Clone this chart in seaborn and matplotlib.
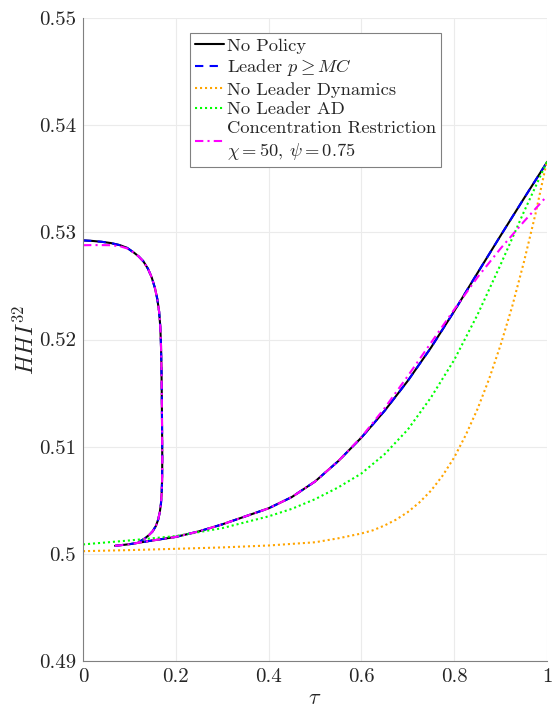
import numpy as np
import pandas as pd
import matplotlib
matplotlib.use("Agg")
import matplotlib.pyplot as plt
import seaborn as sns

# ---------------- data ----------------
# No Policy (black) -- upper branch with fold, then lower branch
np_tau_up = [0.0, 0.02, 0.04, 0.06, 0.08, 0.095, 0.11, 0.12, 0.13, 0.14, 0.148, 0.155,
             0.16, 0.164, 0.1665, 0.168, 0.169, 0.1697, 0.1703, 0.1708, 0.1705, 0.1695,
             0.168, 0.1655, 0.162, 0.157, 0.15, 0.142, 0.132, 0.12]
np_hhi_up = [0.52925, 0.5292, 0.52912, 0.529, 0.5288, 0.52855, 0.5281, 0.52775, 0.5273,
             0.5266, 0.5258, 0.5248, 0.5238, 0.5226, 0.5212, 0.5195, 0.5175, 0.515,
             0.512, 0.509, 0.507, 0.5057, 0.5047, 0.5039, 0.5032, 0.5026, 0.5021,
             0.50175, 0.5014, 0.5011]
np_tau_lo = [0.069, 0.1, 0.15, 0.2, 0.25, 0.3, 0.35, 0.4, 0.45, 0.5, 0.55, 0.6, 0.65,
             0.7, 0.75, 0.8, 0.85, 0.9, 0.95, 1.0]
np_hhi_lo = [0.50075, 0.5009, 0.50125, 0.50158, 0.5021, 0.50275, 0.5035, 0.50425, 0.5053,
             0.50675, 0.50865, 0.51085, 0.51335, 0.51615, 0.51925, 0.52265, 0.5262,
             0.5297, 0.53315, 0.53655]

# Leader p >= MC (blue dashed) -- coincides with No Policy
ld_tau_up = np_tau_up
ld_hhi_up = np_hhi_up
ld_tau_lo = np_tau_lo
ld_hhi_lo = np_hhi_lo

# No Leader Dynamics (orange dotted)
nd_tau = [0.0, 0.1, 0.2, 0.3, 0.4, 0.5, 0.55, 0.6, 0.625, 0.65, 0.675, 0.7, 0.725, 0.75,
          0.775, 0.8, 0.825, 0.85, 0.875, 0.9, 0.925, 0.95, 0.975, 1.0]
nd_hhi = [0.50025, 0.50035, 0.50047, 0.5006, 0.50078, 0.50108, 0.50145, 0.5019, 0.5022,
          0.50265, 0.5032, 0.5039, 0.5048, 0.5059, 0.5073, 0.5090, 0.5111, 0.5135,
          0.5163, 0.5195, 0.5231, 0.5272, 0.5317, 0.5367]

# No Leader AD (green dotted)
na_tau = [0.0, 0.1, 0.2, 0.3, 0.4, 0.45, 0.5, 0.55, 0.6, 0.65, 0.7, 0.75, 0.8, 0.85,
          0.9, 0.95, 1.0]
na_hhi = [0.50088, 0.50125, 0.50166, 0.5024, 0.5035, 0.5042, 0.5051, 0.5062, 0.5075,
          0.5093, 0.5116, 0.5146, 0.5181, 0.5223, 0.5270, 0.5319, 0.5366]

# Concentration Restriction (magenta dash-dot)
cr_tau_up = np_tau_up
cr_hhi_up = [0.5288, 0.52881, 0.52881, 0.5288, 0.5287, 0.5285, 0.5281, 0.52775, 0.5273,
             0.5266, 0.5258, 0.5248, 0.5238, 0.5226, 0.5212, 0.5195, 0.5175, 0.515,
             0.512, 0.509, 0.507, 0.5057, 0.5047, 0.5039, 0.5032, 0.5026, 0.5021,
             0.50175, 0.5014, 0.5011]
cr_tau_lo = np_tau_lo
cr_hhi_lo = [0.50075, 0.5009, 0.50125, 0.50158, 0.5021, 0.50275, 0.5035, 0.50425, 0.5053,
             0.50675, 0.50865, 0.5109, 0.5136, 0.5166, 0.5197, 0.5228, 0.5258, 0.5285,
             0.5310, 0.5334]

labels = ["No Policy", r"Leader $p \geq MC$", "No Leader Dynamics", "No Leader AD",
          "Concentration Restriction\n" + r"$\chi = 50$, $\psi = 0.75$"]

x_ticks = [0, 0.2, 0.4, 0.6, 0.8, 1]
x_tick_labels = ["0", "0.2", "0.4", "0.6", "0.8", "1"]
y_ticks = [0.49, 0.50, 0.51, 0.52, 0.53, 0.54, 0.55]
y_tick_labels = ["0.49", "0.5", "0.51", "0.52", "0.53", "0.54", "0.55"]

# ---------------- style ----------------
sns.set_style("whitegrid")
plt.rcParams["font.family"] = ["cmr10", "DejaVu Serif"]
plt.rcParams["mathtext.fontset"] = "cm"
plt.rcParams["axes.formatter.use_mathtext"] = True

fig = plt.figure(figsize=(5.52, 7.15), dpi=100)
ax = fig.add_axes([0.1504, 0.0755, 0.8406, 0.8993])

lw = 1.5
series = [
    (labels[0], [(np_tau_up, np_hhi_up), (np_tau_lo, np_hhi_lo)], "black", "-"),
    (labels[1], [(ld_tau_up, ld_hhi_up), (ld_tau_lo, ld_hhi_lo)], "#0000FF", (0, (4, 3))),
    (labels[2], [(nd_tau, nd_hhi)], "#FFA500", (0, (1, 1.4))),
    (labels[3], [(na_tau, na_hhi)], "#00FF00", (0, (1, 1.4))),
    (labels[4], [(cr_tau_up, cr_hhi_up), (cr_tau_lo, cr_hhi_lo)], "#FF00FF", (0, (4, 2, 1, 2))),
]

handles = []
for lab, segs, col, ls in series:
    for t, h in segs:
        df = pd.DataFrame({"tau": t, "hhi": h})
        sns.lineplot(data=df, x="tau", y="hhi", ax=ax, sort=False, estimator=None,
                     color=col, linestyle=ls, linewidth=lw)
    handles.append(matplotlib.lines.Line2D([], [], color=col, linestyle=ls, linewidth=lw))

ax.set_xlim(0, 1)
ax.set_ylim(0.49, 0.55)
ax.set_xticks(x_ticks)
ax.set_xticklabels(x_tick_labels)
ax.set_yticks(y_ticks)
ax.set_yticklabels(y_tick_labels)

ax.grid(True, color="#ebebeb", linewidth=0.8)
for s in ["top", "right"]:
    ax.spines[s].set_visible(False)
for s in ["left", "bottom"]:
    ax.spines[s].set_color("#808080")
    ax.spines[s].set_linewidth(0.8)
ax.tick_params(axis="both", direction="in", length=5, width=0.8, color="#808080",
               labelsize=15, labelcolor="#262626", pad=5)

ax.set_xlabel(r"$\tau$", fontsize=16, color="#262626", labelpad=2)
ax.set_ylabel(r"$HHI^{32}$", fontsize=17, color="#262626", labelpad=0)

leg = ax.legend(handles, labels, loc="upper left", bbox_to_anchor=(0.2306, 0.9767),
                borderaxespad=0, fontsize=13.3, frameon=True, fancybox=False,
                handlelength=1.6, handletextpad=0.15, labelspacing=0.2,
                borderpad=0.25, framealpha=1)
leg.get_texts()[4].set_linespacing(1.3)
leg.get_frame().set_edgecolor("#808080")
leg.get_frame().set_linewidth(0.8)

fig.savefig("out.png", dpi=100)
